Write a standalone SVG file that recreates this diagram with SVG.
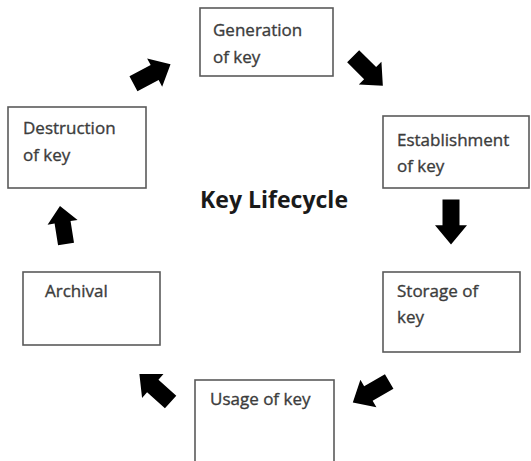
<svg xmlns="http://www.w3.org/2000/svg" xmlns:xlink="http://www.w3.org/1999/xlink" width="531" height="461" viewBox="0 0 531 461">
<style>
.box{fill:#fff;stroke:#5a5a5a;stroke-width:1.6}
.lbl{font-family:"Open Sans","Liberation Sans",sans-serif;font-size:17px;fill:#3c3c3c;stroke:#3c3c3c;stroke-width:0.35}
.title{font-family:"Open Sans","Liberation Sans",sans-serif;font-size:23px;font-weight:bold;fill:#1a1a1a}
.arr{fill:#000}
</style>
<defs>
<path id="arr" d="M-21,-8.5 L3,-8.5 L3,-16 L21,0 L3,16 L3,8.5 L-21,8.5 Z"/>
</defs>
<rect width="531" height="461" fill="#fff"/>
<g id="connectors" class="arr">
<use xlink:href="#arr" href="#arr" transform="translate(368,71) rotate(45)"/>
<use xlink:href="#arr" href="#arr" transform="translate(451,222) rotate(90) scale(1.07,1)"/>
<use xlink:href="#arr" href="#arr" transform="translate(371,392) rotate(150)"/>
<use xlink:href="#arr" href="#arr" transform="translate(155,388) rotate(-138)"/>
<use xlink:href="#arr" href="#arr" transform="translate(63,225) rotate(-99) scale(0.92,0.95)"/>
<use xlink:href="#arr" href="#arr" transform="translate(152,74) rotate(-28)"/>
</g>
<g id="generation">
<rect class="box" x="200" y="8" width="133" height="68"/>
<text class="lbl" x="213" y="36">Generation</text>
<text class="lbl" x="213" y="63">of key</text>
</g>
<g id="establishment">
<rect class="box" x="383" y="116" width="146" height="72"/>
<text class="lbl" x="397" y="146">Establishment</text>
<text class="lbl" x="397" y="172">of key</text>
</g>
<g id="storage">
<rect class="box" x="383" y="272" width="137" height="80"/>
<text class="lbl" x="397" y="297">Storage of</text>
<text class="lbl" x="397" y="323">key</text>
</g>
<g id="usage">
<rect class="box" x="195" y="380" width="139" height="90"/>
<text class="lbl" x="210" y="405">Usage of key</text>
</g>
<g id="archival">
<rect class="box" x="23" y="272" width="137" height="73"/>
<text class="lbl" x="45" y="297">Archival</text>
</g>
<g id="destruction">
<rect class="box" x="8" y="107" width="138" height="81"/>
<text class="lbl" x="23" y="134">Destruction</text>
<text class="lbl" x="23" y="161">of key</text>
</g>
<g id="title">
<text class="title" x="200" y="208" textLength="148" lengthAdjust="spacingAndGlyphs">Key Lifecycle</text>
</g>
</svg>
